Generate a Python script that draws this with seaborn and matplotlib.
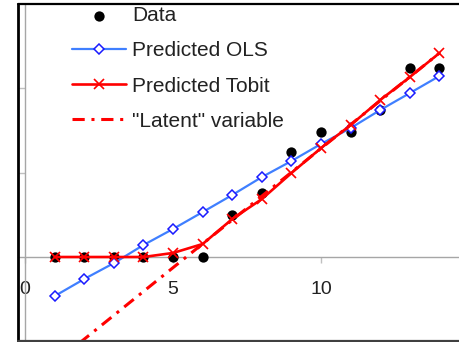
import numpy as np
import pandas as pd
import matplotlib
matplotlib.use("Agg")
import matplotlib.pyplot as plt
from matplotlib.lines import Line2D
import seaborn as sns

# Datos
x_vals = [1, 2, 3, 4, 5, 6, 7, 8, 9, 10, 11, 12, 13, 14]
y_data = [0, 0, 0, 0, 0, 0, 2.5, 3.8, 6.2, 7.4, 7.4, 8.7, 11.2, 11.2]
y_ols = [-2.31, -1.30, -0.36, 0.71, 1.66, 2.66, 3.67, 4.73, 5.68, 6.69, 7.63, 8.70, 9.70, 10.71]
y_tobit = [0, 0, 0, 0, 0.24, 0.77, 2.25, 3.43, 4.97, 6.45, 7.81, 9.29, 10.65, 12.07]
latent_x = [1, 14]
latent_y = [-6.27, 12.07]
x_ticks = [0, 5, 10]

df = pd.DataFrame({"x": x_vals, "data": y_data, "ols": y_ols, "tobit": y_tobit})
df_lat = pd.DataFrame({"x": latent_x, "y": latent_y})

sns.set_style("white")
plt.rcParams["font.family"] = ["Liberation Sans", "DejaVu Sans"]

W, H = 459, 342
fig = plt.figure(figsize=(W / 100, H / 100), dpi=100)
ax = fig.add_axes([18 / W, 1 / H, 1 - 18 / W, 337 / H])

sns.scatterplot(data=df, x="x", y="data", ax=ax, color="black", s=55,
                edgecolor="black", linewidth=0, label="Data", zorder=2)
sns.lineplot(data=df, x="x", y="ols", ax=ax, color="#3f7fff", lw=1.6,
             marker="D", markersize=5, markerfacecolor="white",
             markeredgecolor="#1a1aff", markeredgewidth=1.1,
             label="Predicted OLS", zorder=3)
sns.lineplot(data=df, x="x", y="tobit", ax=ax, color="#ff0000", lw=1.9,
             marker="x", markersize=7, markeredgewidth=1.2,
             markeredgecolor="#ff0000",
             label="Predicted Tobit", zorder=4)
sns.lineplot(data=df_lat, x="x", y="y", ax=ax, color="#ff0000", lw=2.2,
             linestyle=(0, (4, 2.2, 1, 2.2)),
             label='"Latent" variable', zorder=3.5)

ax.set_xlim(-0.24, 14.66)
ax.set_ylim(-4.97, 14.97)

# ejes grises en cero
for s in ["top", "right"]:
    ax.spines[s].set_visible(False)
for s in ["left", "bottom"]:
    ax.spines[s].set_position(("data", 0))
    ax.spines[s].set_color("#a6a6a6")
    ax.spines[s].set_linewidth(1.0)
    ax.spines[s].set_zorder(1)

ax.set_xticks(x_ticks)
ax.set_xticklabels([str(t) for t in x_ticks])
ax.set_yticks([5, 10])
ax.set_yticklabels([])
ax.tick_params(axis="x", direction="out", length=4.5, width=1, color="#c0c0c0",
               pad=13, labelsize=14, labelcolor="#222222", bottom=True)
ax.tick_params(axis="y", direction="out", length=5, width=1, color="#c0c0c0", left=True)
ax.set_xlabel("")
ax.set_ylabel("")

# marco
fig.add_artist(Line2D([18 / W, 18 / W], [0, 1 - 4 / H], transform=fig.transFigure,
                      color="black", lw=2))
fig.add_artist(Line2D([18 / W, 1], [1 - 4 / H, 1 - 4 / H], transform=fig.transFigure,
                      color="black", lw=1.6))
fig.add_artist(Line2D([18 / W, 1], [1 / H, 1 / H], transform=fig.transFigure,
                      color="#404040", lw=1.6))

leg = ax.legend(loc="upper left", bbox_to_anchor=(72 / W, 1 - 6 / H),
                bbox_transform=fig.transFigure, frameon=False, fontsize=15,
                handlelength=2.6, handletextpad=0.3, labelspacing=0.78,
                borderpad=0, borderaxespad=0, numpoints=1, scatterpoints=1)
for t in leg.get_texts():
    t.set_color("#222222")

fig.savefig("out.png", dpi=100)
